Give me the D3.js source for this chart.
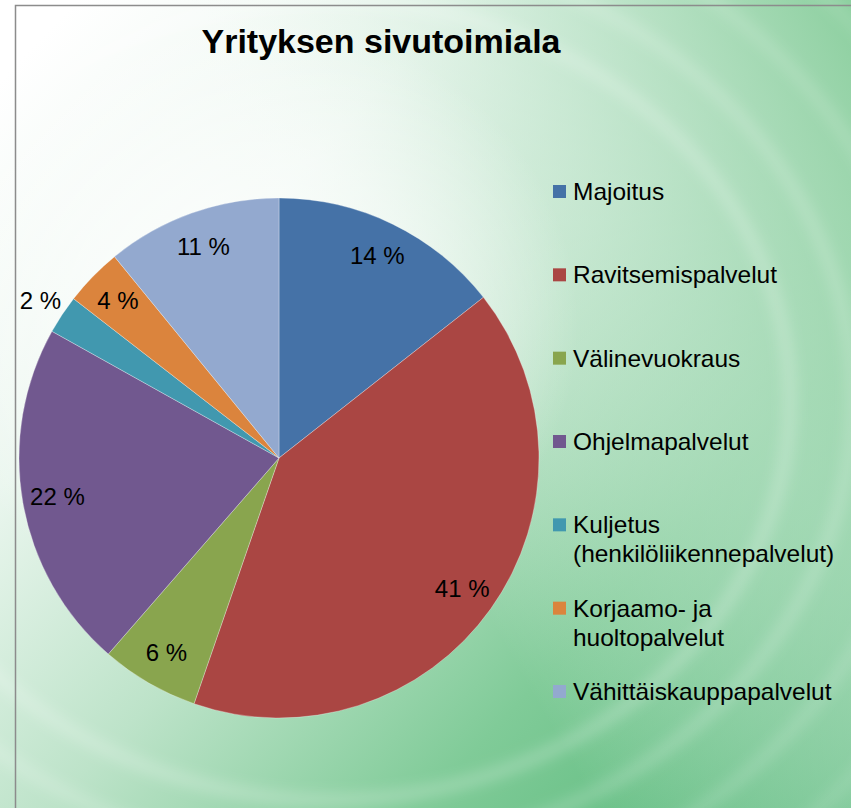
<!DOCTYPE html>
<html lang="fi">
<head>
<meta charset="UTF-8">
<title>Yrityksen sivutoimiala</title>
<script src="https://d3js.org/d3.v7.min.js"></script>
<style>
    body { margin: 0; background: #fff; }
    svg { display: block; font-family: "Liberation Sans", Arial, sans-serif; }
</style>
</head>
<body>
<div id="chart"></div>
<script>
// data (shares in percent)
const categories = ["Majoitus", "Ravitsemispalvelut", "Välinevuokraus", "Ohjelmapalvelut",
    "Kuljetus (henkilöliikennepalvelut)", "Korjaamo- ja huoltopalvelut", "Vähittäiskauppapalvelut"];
const shares = [14.4, 40.9, 6.1, 21.7, 2.4, 3.6, 10.9];
const colors = ["#4572A7", "#AA4643", "#89A54E", "#71588F", "#4198AF", "#DB843D", "#93A9CF"];
const title = "Yrityksen sivutoimiala";

const width = 851, height = 808;
const cx = 279, cy = 458, R = 260;

const svg = d3.select("#chart").append("svg")
    .attr("width", width)
    .attr("height", height);

const defs = svg.append("defs");

// background: white on the left fading into green at bottom right
const bg = defs.append("linearGradient").attr("id", "bg")
    .attr("x1", 0).attr("y1", 0.1).attr("x2", 1).attr("y2", 1);
bg.append("stop").attr("offset", 0).attr("stop-color", "#ffffff");
bg.append("stop").attr("offset", 0.25).attr("stop-color", "#eaf6ee");
bg.append("stop").attr("offset", 0.48).attr("stop-color", "#bde3c9");
bg.append("stop").attr("offset", 0.72).attr("stop-color", "#80cb98");
bg.append("stop").attr("offset", 1).attr("stop-color", "#52b676");

const tr = defs.append("linearGradient").attr("id", "tr")
    .attr("x1", 0.35).attr("y1", 0.35).attr("x2", 1).attr("y2", 0);
tr.append("stop").attr("offset", 0).attr("stop-color", "#ffffff").attr("stop-opacity", 0);
tr.append("stop").attr("offset", 0.55).attr("stop-color", "#c0e5cc").attr("stop-opacity", 0.6);
tr.append("stop").attr("offset", 1).attr("stop-color", "#8ccf9f").attr("stop-opacity", 1);

const glow = defs.append("radialGradient").attr("id", "glow")
    .attr("cx", 0.3).attr("cy", 0.4).attr("r", 0.38);
glow.append("stop").attr("offset", 0).attr("stop-color", "#ffffff").attr("stop-opacity", 1);
glow.append("stop").attr("offset", 0.55).attr("stop-color", "#ffffff").attr("stop-opacity", 0.55);
glow.append("stop").attr("offset", 1).attr("stop-color", "#ffffff").attr("stop-opacity", 0);

defs.append("filter").attr("id", "blur")
    .append("feGaussianBlur").attr("stdDeviation", 7);

svg.append("rect").attr("width", width).attr("height", height).attr("fill", "url(#bg)");
svg.append("rect").attr("width", width).attr("height", height).attr("fill", "url(#tr)");
svg.append("rect").attr("width", width).attr("height", height).attr("fill", "url(#glow)");

// faint swirl rings
const rings = svg.append("g").attr("filter", "url(#blur)");
[400, 455, 520, 590].forEach((r, i) => {
    rings.append("ellipse")
        .attr("cx", 330).attr("cy", 400)
        .attr("rx", r * 1.15).attr("ry", r)
        .attr("fill", "none")
        .attr("stroke", "#ffffff")
        .attr("stroke-opacity", 0.24 - i * 0.04)
        .attr("stroke-width", 12);
});

// frame (only top and left edges are in view)
svg.append("path")
    .attr("d", `M15.5,${height} V5.5 H${width}`)
    .attr("fill", "none")
    .attr("stroke", "#8c8c8c")
    .attr("stroke-width", 1.5);

svg.append("text")
    .attr("x", 381).attr("y", 53)
    .attr("text-anchor", "middle")
    .attr("font-weight", "bold")
    .attr("font-size", 34)
    .attr("fill", "#000")
    .text(title);

// pie
const pie = d3.pie().sort(null).value(d => d)(shares);
const arc = d3.arc().innerRadius(0).outerRadius(R);
const labelArc = d3.arc().innerRadius(R * 0.865).outerRadius(R * 0.865);
const outArc = d3.arc().innerRadius(R * 1.1).outerRadius(R * 1.1);

const g = svg.append("g").attr("transform", `translate(${cx},${cy})`);

g.selectAll("path")
    .data(pie)
    .join("path")
    .attr("d", arc)
    .attr("fill", (d, i) => colors[i])
    .attr("stroke", "#ffffff")
    .attr("stroke-opacity", 0.5)
    .attr("stroke-width", 0.6);

g.selectAll("text")
    .data(pie)
    .join("text")
    .attr("transform", d => `translate(${(d.data < 3 ? outArc : labelArc).centroid(d)})`)
    .attr("text-anchor", "middle")
    .attr("dy", "0.35em")
    .attr("font-size", 24)
    .attr("fill", "#000")
    .text(d => `${Math.round(d.data)} %`);

// legend
const legend = svg.append("g");
const rowY = d3.scaleLinear().domain([0, categories.length - 1]).range([200, 700]);
const maxW = 265;

categories.forEach((name, i) => {
    const row = legend.append("g").attr("transform", `translate(553,${rowY(i)})`);
    row.append("rect")
        .attr("x", 0).attr("y", -15)
        .attr("width", 13).attr("height", 13)
        .attr("fill", colors[i]);
    const txt = row.append("g").attr("transform", "translate(20,0) scale(1.02,1)");
    // wrap long names onto two lines
    const words = name.split(" ");
    let lines = [], cur = "";
    const probe = txt.append("text").attr("font-size", 24);
    words.forEach(w => {
        const test = cur ? cur + " " + w : w;
        probe.text(test);
        if (probe.node().getComputedTextLength() > maxW && cur) {
            lines.push(cur);
            cur = w;
        } else cur = test;
    });
    lines.push(cur);
    probe.remove();
    lines.forEach((l, j) => {
        txt.append("text")
            .attr("y", j * 29)
            .attr("font-size", 24)
            .attr("fill", "#000")
            .text(l);
    });
});
</script>
</body>
</html>
